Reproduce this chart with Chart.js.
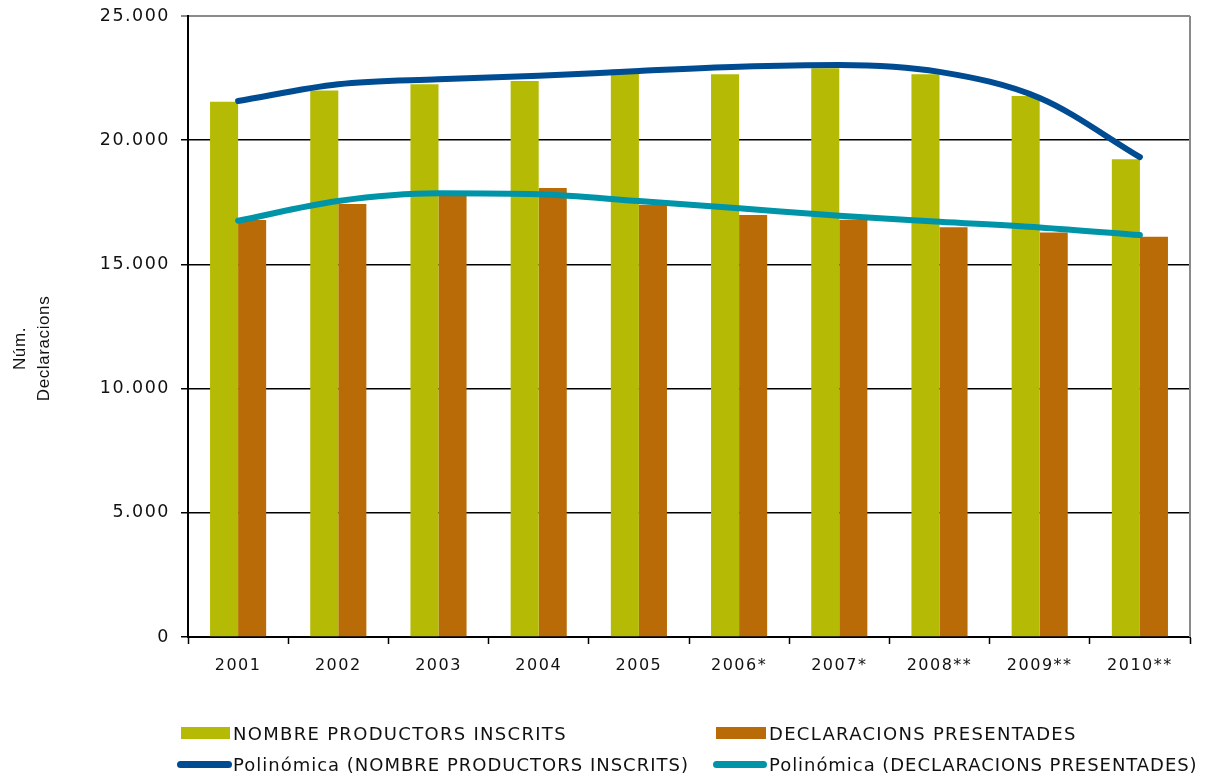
<!DOCTYPE html>
<html><head><meta charset="utf-8">
<script src="https://cdn.jsdelivr.net/npm/chart.js@4"></script>
<style>
html,body{margin:0;padding:0;background:#fff;}
#wrap{position:relative;width:1211px;height:777px;overflow:hidden;}
canvas{position:absolute;left:0;top:0;}
.lg{position:absolute;font-family:"DejaVu Sans";font-size:18px;color:#111;line-height:20px;white-space:nowrap;}
.sw{position:absolute;}
</style></head><body>
<div id="wrap"><canvas id="c" width="1211" height="777"></canvas><div id="legend"></div></div>
<script>
const categories = ['2001','2002','2003','2004','2005','2006*','2007*','2008**','2009**','2010**'];
const productors = [21550, 22000, 22250, 22380, 22850, 22650, 22900, 22650, 21780, 19230];
const declaracions = [16790, 17430, 17750, 18080, 17400, 16990, 16800, 16500, 16280, 16110];
const trendProductors = [21580, 22250, 22450, 22590, 22790, 22960, 23030, 22750, 21700, 19320];
const trendDeclaracions = [16760, 17550, 17860, 17820, 17550, 17260, 16960, 16720, 16490, 16180];
const yTickLabels = ['0','5.000','10.000','15.000','20.000','25.000'];
const yTitleLines = ['Núm.','Declaracions'];
const seriesNames = ['NOMBRE PRODUCTORS INSCRITS','DECLARACIONS PRESENTADES','Polinómica (NOMBRE PRODUCTORS INSCRITS)','Polinómica (DECLARACIONS PRESENTADES)'];

const GREEN='#B5BA05', ORANGE='#B86B06', BLUE='#004C93', TEAL='#0094A8';

const spacing = {
  id:'spacing',
  beforeUpdate(c){ c.ctx.letterSpacing='1.5px'; },
  beforeDraw(c){ c.ctx.letterSpacing='1.5px'; }
};
const frame = {
  id:'frame',
  afterDraw(c){
    const {ctx, chartArea:a} = c;
    ctx.save();
    ctx.strokeStyle='#8a8a8a';
    ctx.lineWidth=2;
    ctx.beginPath();
    ctx.moveTo(a.right, a.top);
    ctx.lineTo(a.right, a.bottom);
    ctx.stroke();
    // y axis title (two rotated lines)
    ctx.letterSpacing='0.6px';
    ctx.fillStyle='#111';
    ctx.font='17px "Liberation Sans"';
    ctx.textAlign='center';
    ctx.textBaseline='middle';
    const cy = a.top + (a.bottom - a.top)/2 + 22;
    [20, 44].forEach((x,i)=>{
      ctx.save();
      ctx.translate(x, cy);
      ctx.rotate(-Math.PI/2);
      ctx.fillText(yTitleLines[i], 0, 0);
      ctx.restore();
    });
    ctx.restore();
  }
};

const chart = new Chart(document.getElementById('c'), {
  type:'bar',
  data:{
    labels:categories,
    datasets:[
      {type:'line', label:seriesNames[2], data:trendProductors, borderColor:BLUE, borderWidth:6, pointRadius:0, cubicInterpolationMode:'monotone', borderCapStyle:'round', order:0, fill:false},
      {type:'line', label:seriesNames[3], data:trendDeclaracions, borderColor:TEAL, borderWidth:6, pointRadius:0, cubicInterpolationMode:'monotone', borderCapStyle:'round', order:0, fill:false},
      {label:seriesNames[0], data:productors, backgroundColor:GREEN, barPercentage:1, categoryPercentage:0.56, order:1},
      {label:seriesNames[1], data:declaracions, backgroundColor:ORANGE, barPercentage:1, categoryPercentage:0.56, order:1}
    ]
  },
  options:{
    responsive:false,
    animation:false,
    layout:{padding:{top:16,right:21,left:0,bottom:0}},
    plugins:{legend:{display:false}, tooltip:{enabled:false}},
    scales:{
      x:{
        grid:{offset:true, drawOnChartArea:false, drawTicks:true, tickLength:7, tickWidth:1.5, tickColor:'#000'},
        border:{color:'#000', width:2},
        ticks:{font:{family:'DejaVu Sans', size:16}, color:'#111', padding:12, maxRotation:0, autoSkip:false},
        afterFit(s){ s.height = 140; s.paddingLeft = 0; s.paddingRight = 0; }
      },
      y:{
        min:0, max:25000,
        ticks:{stepSize:5000, padding:11, font:{family:'DejaVu Sans', size:17.5}, color:'#111',
          callback:(v)=> yTickLabels[Math.round(v/5000)]},
        grid:{
          color:(ctx)=> (ctx.tick && ctx.tick.value===25000) ? '#8a8a8a' : '#000',
          lineWidth:(ctx)=> (ctx.tick && ctx.tick.value===25000) ? 2 : 1.5,
          tickColor:(ctx)=> (ctx.tick && ctx.tick.value===25000) ? '#8a8a8a' : '#000',
          tickLength:7
        },
        border:{color:'#000', width:2},
        afterFit(s){ s.width = 188; s.paddingTop = 0; s.paddingBottom = 0; }
      }
    }
  },
  plugins:[spacing, frame]
});

// HTML legend built from the chart's datasets
const legendEl = document.getElementById('legend');
const slots = [
  {ds:2, kind:'box', sx:181, sy:727, sw:49, sh:12, tx:233, ty:724, ls:1.3},
  {ds:3, kind:'box', sx:716, sy:727, sw:50, sh:12, tx:769, ty:724, ls:1.3},
  {ds:0, kind:'line', sx:177, sy:761, sw:55, sh:7, tx:233, ty:755, ls:1.0},
  {ds:1, kind:'line', sx:713, sy:761, sw:54, sh:7, tx:769, ty:755, ls:0.95}
];
slots.forEach(s=>{
  const d = chart.data.datasets[s.ds];
  const sw = document.createElement('div');
  sw.className='sw';
  sw.style.left=s.sx+'px'; sw.style.top=s.sy+'px';
  sw.style.width=s.sw+'px'; sw.style.height=s.sh+'px';
  sw.style.background = s.kind==='box' ? d.backgroundColor : d.borderColor;
  if (s.kind==='line') sw.style.borderRadius='4px';
  legendEl.appendChild(sw);
  const t = document.createElement('div');
  t.className='lg';
  t.style.left=s.tx+'px'; t.style.top=s.ty+'px';
  t.style.letterSpacing=s.ls+'px';
  t.textContent=d.label;
  legendEl.appendChild(t);
});
</script>
</body></html>
